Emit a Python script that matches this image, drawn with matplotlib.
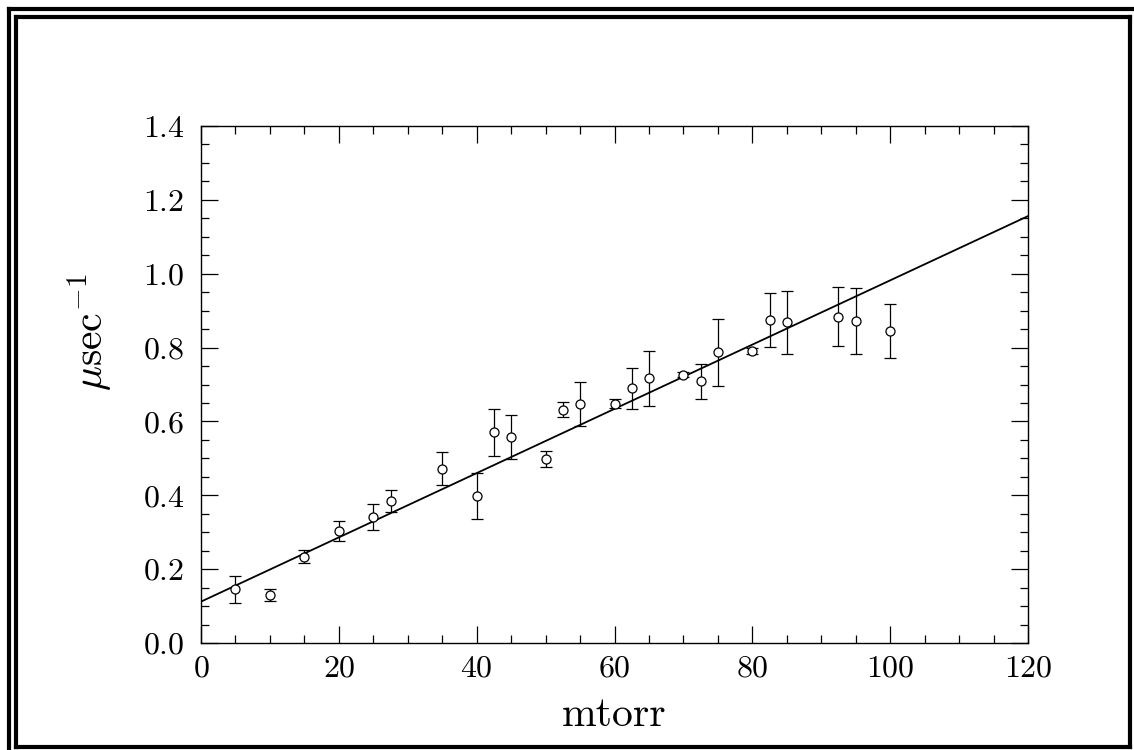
import matplotlib
matplotlib.use("Agg")
import matplotlib.pyplot as plt
from matplotlib.lines import Line2D
from matplotlib.ticker import MultipleLocator

# pressure (mtorr) and rate (1/usec) with error bars
pressure = [5, 10, 15, 20, 25, 27.5, 35, 40, 42.5, 45, 50, 52.5, 55,
            60, 62.5, 65, 70, 72.5, 75, 80, 82.5, 85, 92.5, 95, 100]
rate = [0.145, 0.129, 0.234, 0.303, 0.342, 0.385, 0.472, 0.397, 0.571,
        0.558, 0.499, 0.632, 0.648, 0.648, 0.690, 0.717, 0.727, 0.709,
        0.787, 0.791, 0.874, 0.868, 0.883, 0.871, 0.845]
rate_err = [0.036, 0.016, 0.017, 0.028, 0.035, 0.030, 0.045, 0.062, 0.064,
            0.059, 0.022, 0.021, 0.060, 0.012, 0.055, 0.075, 0.008, 0.047,
            0.090, 0.009, 0.073, 0.086, 0.080, 0.089, 0.073]

# straight-line fit, end points
fit_x = [0, 120]
fit_y = [0.112, 1.156]

plt.rcParams['font.family'] = 'cmr10'
plt.rcParams['mathtext.fontset'] = 'cm'
plt.rcParams['axes.formatter.use_mathtext'] = True

W, H = 1134, 750
fig = plt.figure(figsize=(W / 100, H / 100), dpi=100)
ax = fig.add_axes([201 / W, 1 - 643 / H, (1028 - 201) / W, (643 - 126) / H])

ax.plot(fit_x, fit_y, color='black', lw=1.3)
ax.errorbar(pressure, rate, yerr=rate_err, fmt='o', ms=6.5, mfc='white',
            mec='black', mew=0.9, ecolor='black', elinewidth=0.9,
            capsize=4.5, capthick=0.9)

ax.set_xlim(0, 120)
ax.set_ylim(0, 1.4)
ax.xaxis.set_major_locator(MultipleLocator(20))
ax.xaxis.set_minor_locator(MultipleLocator(5))
ax.yaxis.set_major_locator(MultipleLocator(0.2))
ax.yaxis.set_minor_locator(MultipleLocator(0.05))
ax.tick_params(which='both', direction='in', top=True, right=True,
               width=0.9, labelsize=23)
ax.tick_params(axis='y', pad=12)
ax.tick_params(axis='x', pad=9)
ax.tick_params(which='major', length=12)
ax.tick_params(which='minor', length=6)
for s in ax.spines.values():
    s.set_linewidth(1.0)

ax.set_xlabel('mtorr', fontsize=30, labelpad=10)
ax.set_ylabel(r'$\mu\mathrm{sec}^{-1}$', fontsize=30)
ax.yaxis.set_label_coords(-0.104, 0.6)

# double frame round the page
def px_line(x0, y0, x1, y1, lw):
    fig.add_artist(Line2D([x0 / W, x1 / W], [1 - y0 / H, 1 - y1 / H],
                          transform=fig.transFigure, color='black', lw=lw))

px_line(8.5, 8.5, 8.5, H, 3)
px_line(8.5, 8.5, W, 8.5, 3)
px_line(15.5, 17, 15.5, 747, 3)
px_line(15.5, 17, 1130, 17, 3)
px_line(1130, 17, 1130, 747, 3)
px_line(15.5, 747, 1130, 747, 3)

fig.savefig('out.png', dpi=100)
